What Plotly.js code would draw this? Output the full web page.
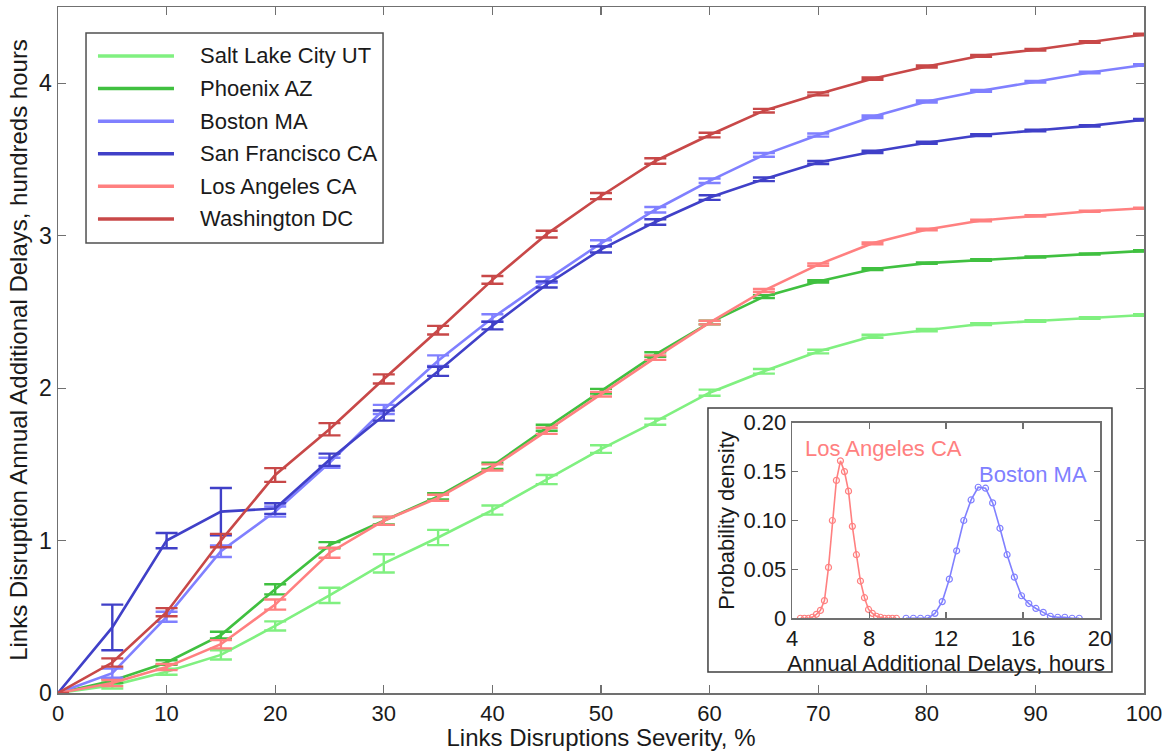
<!DOCTYPE html>
<html>
<head>
<meta charset="utf-8">
<script src="https://cdn.plot.ly/plotly-3.0.1.min.js"></script>
<style>html,body{margin:0;padding:0;background:#fff;}#chart{width:1169px;height:751px;}</style>
</head>
<body>
<div id="chart"></div>
<script>
// ---- Main chart data ----
const severity = [0,5,10,15,20,25,30,35,40,45,50,55,60,65,70,75,80,85,90,95,100];
const cityNames = ["Salt Lake City UT","Phoenix AZ","Boston MA","San Francisco CA","Los Angeles CA","Washington DC"];
const cityColors = ["#80f080","#40c040","#8080ff","#4040c8","#ff8080","#c84848"];

const saltLakeCity = [0,0.05,0.14,0.25,0.44,0.64,0.85,1.02,1.20,1.40,1.60,1.78,1.97,2.11,2.24,2.34,2.38,2.42,2.44,2.46,2.48];
const phoenix      = [0,0.08,0.20,0.38,0.68,0.97,1.13,1.29,1.49,1.74,1.98,2.22,2.43,2.60,2.70,2.78,2.82,2.84,2.86,2.88,2.90];
const boston       = [0,0.13,0.50,0.93,1.19,1.51,1.86,2.18,2.46,2.71,2.95,3.17,3.36,3.53,3.66,3.78,3.88,3.95,4.01,4.07,4.12];
const sanFrancisco = [0,0.43,1.00,1.19,1.21,1.53,1.82,2.11,2.41,2.68,2.91,3.09,3.25,3.37,3.48,3.55,3.61,3.66,3.69,3.72,3.76];
const losAngeles   = [0,0.065,0.17,0.32,0.58,0.92,1.13,1.28,1.48,1.72,1.96,2.20,2.43,2.64,2.81,2.95,3.04,3.10,3.13,3.16,3.18];
const washington   = [0,0.20,0.53,1.00,1.43,1.73,2.06,2.38,2.71,3.01,3.26,3.49,3.66,3.82,3.93,4.03,4.11,4.18,4.22,4.27,4.32];

const errSaltLakeCity = [0,0.02,0.02,0.03,0.03,0.05,0.06,0.05,0.03,0.03,0.025,0.02,0.02,0.015,0.012,0.01,0.008,0.006,0.005,0.005,0.005];
const errPhoenix      = [0,0.015,0.015,0.022,0.033,0.02,0.025,0.02,0.02,0.02,0.015,0.015,0.012,0.01,0.008,0.006,0.005,0.005,0.004,0.004,0.004];
const errBoston       = [0,0.03,0.033,0.038,0.033,0.033,0.03,0.035,0.025,0.02,0.02,0.018,0.015,0.012,0.01,0.008,0.007,0.006,0.005,0.005,0.005];
const errSanFrancisco = [0,0.15,0.05,0.155,0.035,0.04,0.033,0.03,0.025,0.02,0.02,0.018,0.015,0.012,0.01,0.008,0.007,0.006,0.005,0.005,0.005];
const errLosAngeles   = [0,0.02,0.02,0.027,0.033,0.033,0.027,0.02,0.02,0.02,0.015,0.015,0.012,0.01,0.008,0.006,0.005,0.005,0.004,0.004,0.004];
const errWashington   = [0,0.027,0.027,0.044,0.045,0.04,0.03,0.028,0.025,0.022,0.02,0.018,0.015,0.012,0.01,0.008,0.007,0.006,0.005,0.005,0.005];

const xTickVals = [0,10,20,30,40,50,60,70,80,90,100];
const yTickVals = [0,1,2,3,4];

// ---- Inset data ----
const insetLAHours = [4.43,4.64,4.85,5.05,5.26,5.47,5.68,5.89,6.09,6.30,6.51,6.72,6.93,7.13,7.34,7.55,7.76,7.97,8.17,8.38,8.59,8.80,9.01,9.21,9.42];
const insetLADensity = [0,0,0,0.001,0.004,0.008,0.018,0.052,0.100,0.141,0.161,0.150,0.130,0.094,0.065,0.038,0.021,0.009,0.005,0.002,0.001,0,0,0,0];
const insetBostonHours = [9.92,10.30,10.67,11.05,11.42,11.80,12.17,12.55,12.92,13.30,13.67,14.05,14.42,14.80,15.17,15.55,15.92,16.30,16.67,17.05,17.42,17.80,18.17,18.55,18.92];
const insetBostonDensity = [0,0,0,0,0.005,0.017,0.040,0.069,0.100,0.121,0.134,0.133,0.118,0.092,0.065,0.042,0.023,0.015,0.010,0.006,0.002,0.001,0.001,0,0];
const insetXTicks = [4,8,12,16,20];
const insetXTickText = ["4","8","12","16","20"];
const insetYTicks = [0,0.05,0.10,0.15,0.20];
const insetYTickText = ["0","0.05","0.10","0.15","0.20"];

const FONT = "Liberation Sans, Arial, sans-serif";
const TXT = "#1a1a1a";
const AXC = "#707070";

const seriesY = [saltLakeCity, phoenix, boston, sanFrancisco, losAngeles, washington];
const seriesErr = [errSaltLakeCity, errPhoenix, errBoston, errSanFrancisco, errLosAngeles, errWashington];

const traces = seriesY.map((ys, i) => ({
  type: "scatter", mode: "lines", name: cityNames[i],
  x: severity, y: ys, xaxis: "x", yaxis: "y",
  line: {color: cityColors[i], width: 2.6},
  error_y: {type: "data", array: seriesErr[i], visible: true, color: cityColors[i], thickness: 2.4, width: 11},
  showlegend: false
}));

traces.push({
  type: "scatter", mode: "lines+markers", name: "Los Angeles CA (density)",
  x: insetLAHours, y: insetLADensity, xaxis: "x2", yaxis: "y2",
  line: {color: "#ff8080", width: 1.6},
  marker: {symbol: "circle-open", size: 6, color: "#ff8080", line: {width: 1.2}},
  showlegend: false
});
traces.push({
  type: "scatter", mode: "lines+markers", name: "Boston MA (density)",
  x: insetBostonHours, y: insetBostonDensity, xaxis: "x2", yaxis: "y2",
  line: {color: "#8080ff", width: 1.6},
  marker: {symbol: "circle-open", size: 6, color: "#8080ff", line: {width: 1.2}},
  showlegend: false
});

// ---- Custom legend (shapes + annotations) ----
const legX0 = 0.0258, legX1 = 0.2993, legY0 = 0.656, legY1 = 0.962;
const legLineX0 = 0.0368, legLineX1 = 0.1068, legTextX = 0.1289;
const legRowTop = 0.9286, legRowStep = 0.0475;

const shapes = [
  {type: "rect", xref: "paper", yref: "paper", x0: legX0, x1: legX1, y0: legY0, y1: legY1,
   line: {color: "#505050", width: 1.5}, fillcolor: "rgba(255,255,255,1)", layer: "above"},
  // inset outer frame
  {type: "rect", xref: "paper", yref: "paper", x0: 0.5985, x1: 0.9705, y0: 0.0306, y1: 0.4155,
   line: {color: "#404040", width: 1.5}, fillcolor: "rgba(0,0,0,0)", layer: "above"}
];
const annotations = [];
cityNames.forEach((n, i) => {
  const yy = legRowTop - i * legRowStep;
  shapes.push({type: "line", xref: "paper", yref: "paper", x0: legLineX0, x1: legLineX1, y0: yy, y1: yy,
    line: {color: cityColors[i], width: 3.5}, layer: "above"});
  annotations.push({xref: "paper", yref: "paper", x: legTextX, y: yy, xanchor: "left", yanchor: "middle",
    text: n, showarrow: false, font: {family: FONT, size: 22, color: TXT}});
});
annotations.push({xref: "x2", yref: "y2", x: 8.73, y: 0.174, text: "Los Angeles CA", showarrow: false,
  font: {family: FONT, size: 22, color: "#ff8080"}, xanchor: "center", yanchor: "middle"});
annotations.push({xref: "x2", yref: "y2", x: 16.52, y: 0.147, text: "Boston MA", showarrow: false,
  font: {family: FONT, size: 22, color: "#8080ff"}, xanchor: "center", yanchor: "middle"});

const axisCommon = {
  showline: true, linecolor: AXC, linewidth: 1.5, mirror: "ticks",
  ticks: "inside", ticklen: 8, tickwidth: 1.2, tickcolor: AXC,
  showgrid: false, zeroline: false,
  tickfont: {family: FONT, size: 23, color: TXT}
};

const layout = {
  width: 1169, height: 751,
  margin: {l: 58, r: 25, t: 7, b: 58},
  paper_bgcolor: "#ffffff", plot_bgcolor: "#ffffff",
  showlegend: false,
  font: {family: FONT, color: TXT},
  xaxis: Object.assign({}, axisCommon, {
    domain: [0, 1], anchor: "y", range: [0, 100], tickvals: xTickVals,
    tickfont: {family: FONT, size: 22, color: TXT},
    title: {text: "Links Disruptions Severity, %", font: {family: FONT, size: 24, color: TXT}, standoff: 4}
  }),
  yaxis: Object.assign({}, axisCommon, {
    domain: [0, 1], anchor: "x", range: [0, 4.5], tickvals: yTickVals,
    title: {text: "Links Disruption Annual Additional Delays, hundreds hours", font: {family: FONT, size: 24, color: TXT}, standoff: 4}
  }),
  xaxis2: Object.assign({}, axisCommon, {
    domain: [0.676, 0.9595], anchor: "y2", range: [4, 20], tickvals: insetXTicks, ticktext: insetXTickText,
    ticklen: 6, tickfont: {family: FONT, size: 22, color: TXT},
    title: {text: "Annual Additional Delays, hours", font: {family: FONT, size: 22.5, color: TXT}, standoff: 0}
  }),
  yaxis2: Object.assign({}, axisCommon, {
    domain: [0.109, 0.394], anchor: "x2", range: [0, 0.2], tickvals: insetYTicks, ticktext: insetYTickText,
    ticklen: 6, tickfont: {family: FONT, size: 22, color: TXT},
    title: {text: "Probability density", font: {family: FONT, size: 22, color: TXT}, standoff: 2}
  }),
  shapes: shapes,
  annotations: annotations
};

Plotly.newPlot("chart", traces, layout, {displayModeBar: false, staticPlot: true});
</script>
</body>
</html>
